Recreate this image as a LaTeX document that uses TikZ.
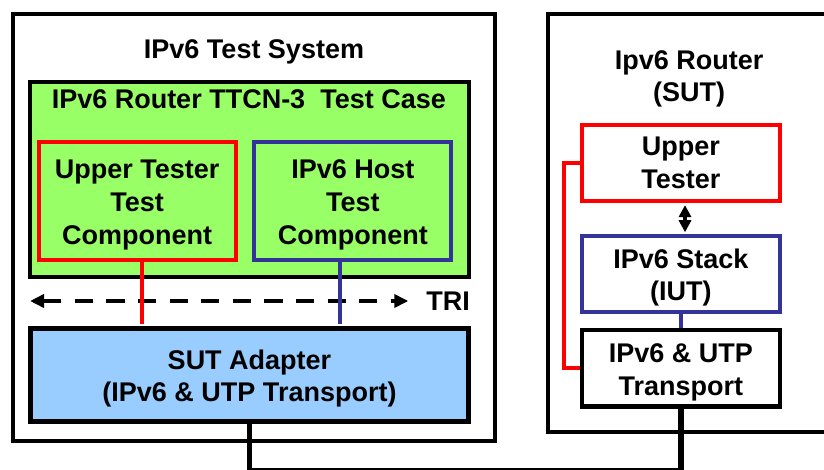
\documentclass[tikz,border=0pt]{standalone}
\usepackage{fontspec}
\setmainfont{Liberation Sans}
\usetikzlibrary{arrows.meta, positioning}
\definecolor{casegreen}{HTML}{99FF66}
\definecolor{adaptblue}{HTML}{99CCFF}
\definecolor{hostnavy}{HTML}{333399}
% extra height on the first line, so the lines sit as in the original
\newcommand{\headfix}{\rule{0pt}{26.5pt}}

\begin{document}
\begin{tikzpicture}[
  x=1pt, y=-1pt,
  font=\fontsize{27}{32.7}\selectfont\bfseries,
  framebox/.style={
    rectangle, draw=black, fill=white, line width=4.3pt, inner sep=0pt, align=center
  },
  casebox/.style={framebox, fill=casegreen, line width=4pt},
  utbox/.style={
    rectangle, draw=red, line width=4pt, inner sep=0pt, align=center, minimum width=197pt
  },
  hostbox/.style={utbox, draw=hostnavy},
  adaptbox/.style={framebox, fill=adaptblue},
  sutbox/.style={framebox, minimum width=197.7pt, minimum height=76.5pt},
  title/.style={inner sep=0pt, align=center},
  redline/.style={draw=red, line width=4.3pt},
  blueline/.style={draw=hostnavy, line width=4pt},
  bus/.style={draw=black, line width=5.5pt},
  tri/.style={
    dash pattern=on 18.3pt off 13.3pt, line width=4.3pt,
    {Triangle[length=14pt,width=13pt]}-{Triangle[length=14pt,width=13pt]}
  },
  twoway/.style={
    line width=3.5pt, shorten <=1.8pt, shorten >=1.8pt,
    {Triangle[length=12pt,width=12pt]}-{Triangle[length=12pt,width=12pt]}
  },
]
\path[use as bounding box, fill=white] (0,0) rectangle (824,470);

% Left frame: test system
\node[framebox, minimum width=482pt, minimum height=427pt] (tsys) at (254,227.5) {};
\node[title, anchor=base] (tsystitle) at (254,58.5) {IPv6 Test System};

\node[casebox, minimum width=439pt, minimum height=195pt] (tcase) at (249.5,179.5) {};
\node[title, anchor=base] (tcasetitle) at (248.8,108.3) {IPv6 Router TTCN-3\ \ Test Case};

\node[utbox, minimum height=118pt] (utc) at (137.2,201.2) {\headfix Upper Tester\\Test\\Component};
\node[hostbox, minimum height=118pt] (hostc) at (352.8,201.2) {\headfix IPv6 Host\\Test\\Component};

\node[adaptbox, minimum width=438pt, minimum height=93pt] (sut) at (249.5,374.9) {\headfix SUT Adapter\\(IPv6 \& UTP Transport)};

% TRI interface
\coordinate (tril) at (30,301);
\coordinate (trir) at (408.3,301);
\node[title, anchor=base] (trilbl) at (448,310) {TRI};
\draw[tri] (tril) -- (trir);

\draw[redline, shorten >=2pt] ([xshift=4.8pt]utc.south) -- ([xshift=4.8pt]utc.south |- sut.north);
\draw[blueline, shorten >=2pt] ([xshift=-12.5pt]hostc.south) -- ([xshift=-12.5pt]hostc.south |- sut.north);

% Right frame: router under test
\node[framebox, minimum width=282pt, minimum height=418pt] (rtr) at (689,223) {};
\node[title] (rtrtitle) at (689.2,79) {Ipv6 Router\\(SUT)};

\node[utbox, minimum width=197.7pt, minimum height=76.6pt] (ut) at (680.8,163) {Upper\\Tester};
\node[hostbox, minimum width=197.7pt, minimum height=76.3pt] (iut) at (680.8,274.2) {\headfix IPv6 Stack\\(IUT)};
\node[sutbox] (tp) at (680.8,368.3) {\headfix IPv6 \& UTP\\Transport};

\draw[twoway] ([xshift=4.2pt]ut.south) -- ([xshift=4.2pt]ut.south |- iut.north);
\draw[blueline, line width=3.5pt] (iut.south) -- (tp.north);
\draw[redline] (ut.west) -- ++(-16,0) |- (tp.west);

% Link between the two systems
\coordinate (busy) at (0,471);
\draw[bus] (sut.south) -- (sut.south |- busy) -| (tp.south);
\end{tikzpicture}
\end{document}
